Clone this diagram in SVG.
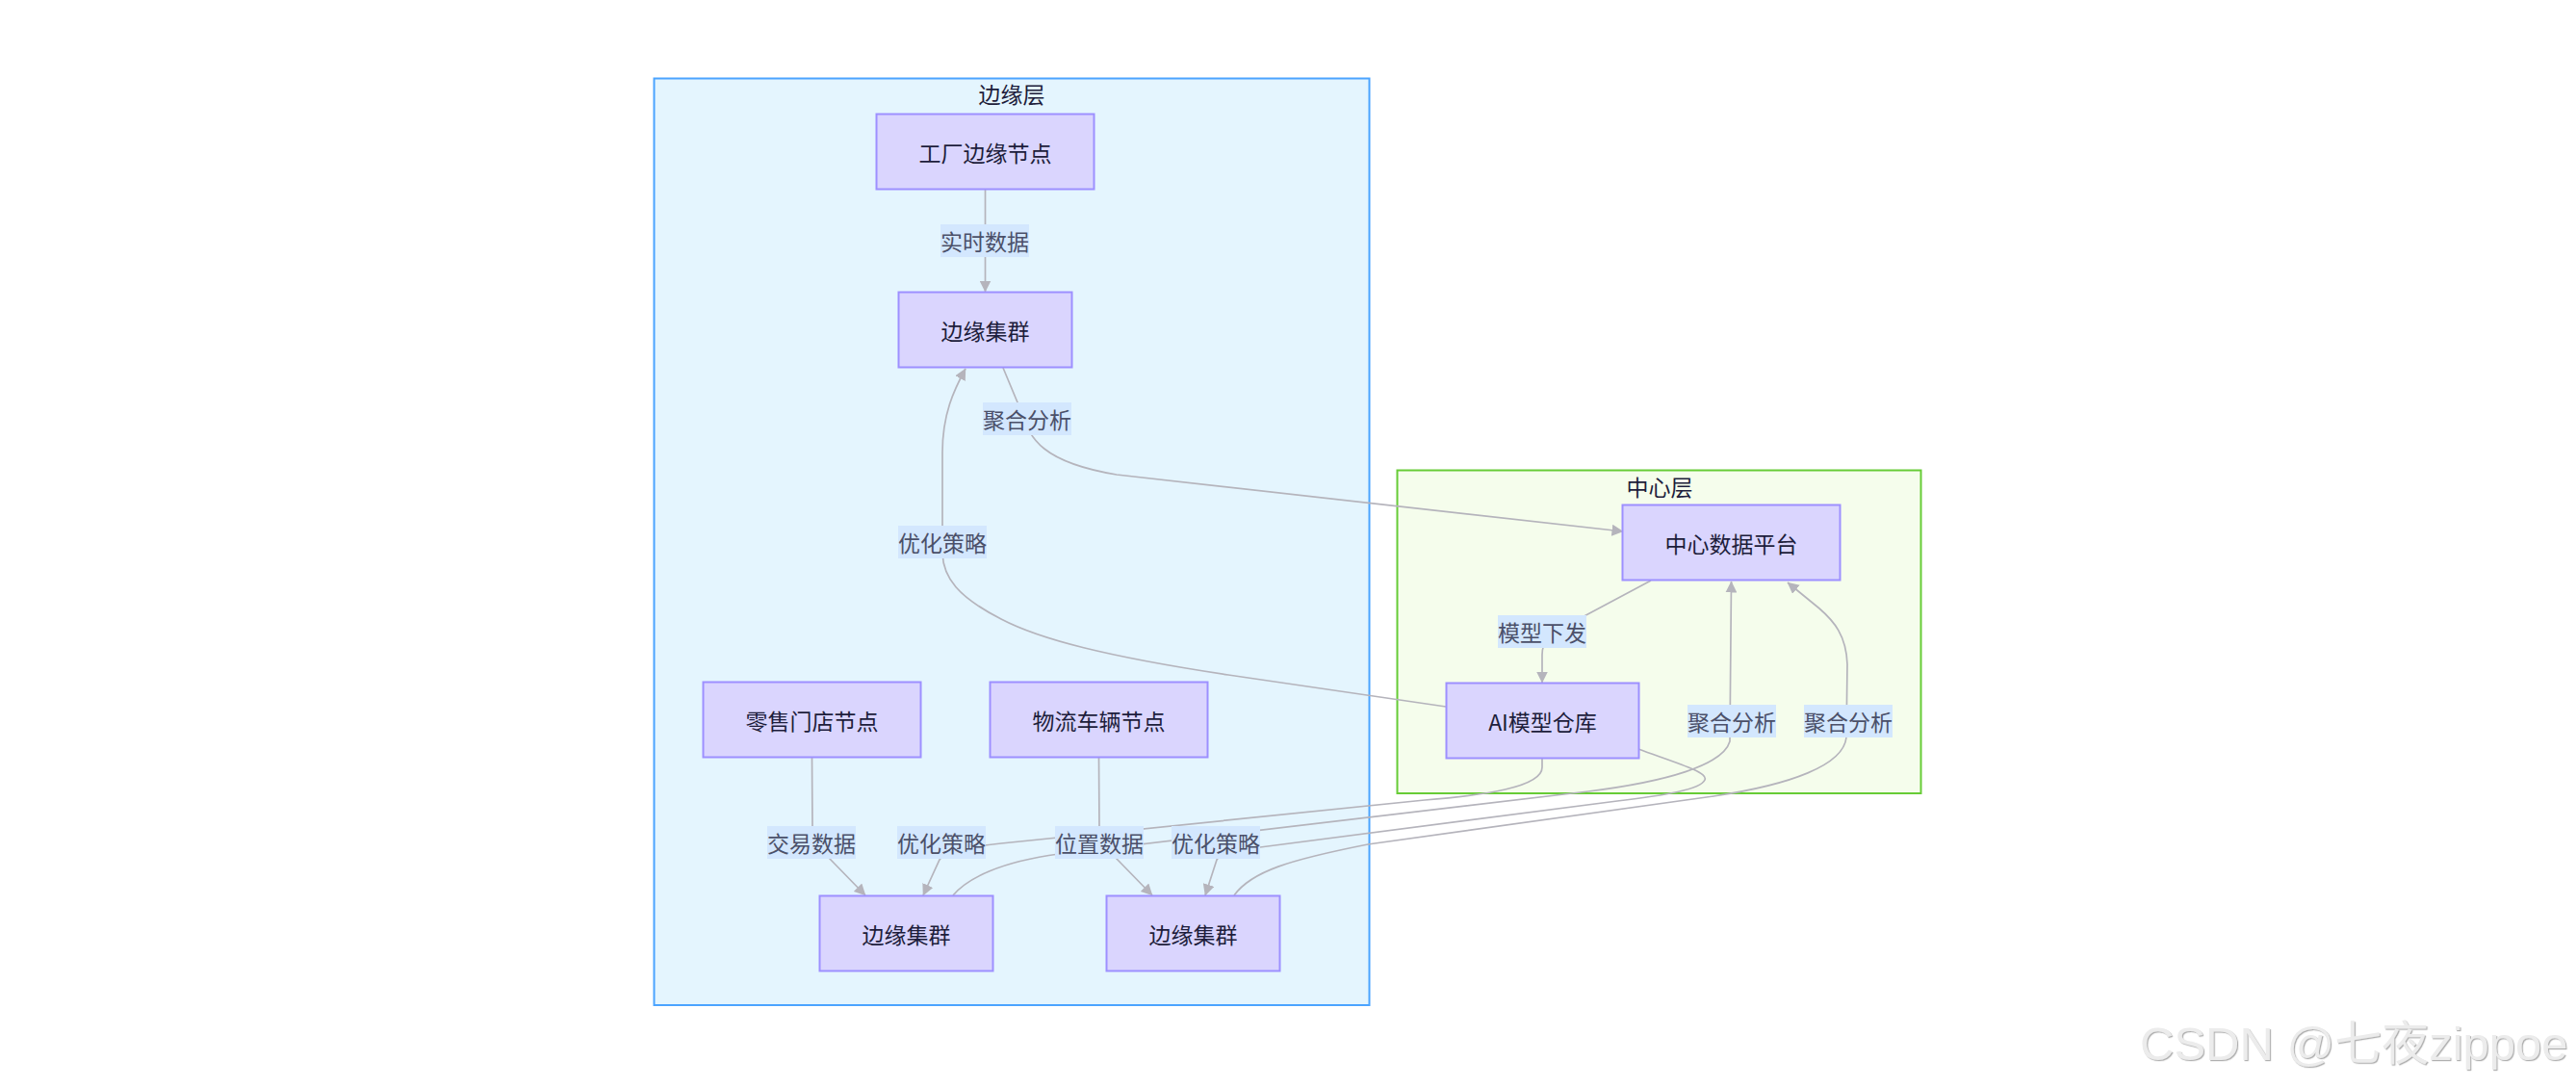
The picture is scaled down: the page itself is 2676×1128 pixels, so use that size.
<svg xmlns="http://www.w3.org/2000/svg" width="2676" height="1128" viewBox="0 0 2676 1128">
<style>
.node rect{fill:#dad5fe;stroke:#9d90ff;stroke-width:2}
.node text{font-family:"Noto Sans CJK SC","Liberation Sans",sans-serif;font-size:23px;fill:#1d1d3b;text-anchor:middle;dominant-baseline:central}
.edge{fill:none;stroke:#b5b4bc;stroke-width:1.7}
.lbl rect{fill:#d3e7fe}
.lbl text{font-family:"Noto Sans CJK SC","Liberation Sans",sans-serif;font-size:23px;fill:#4b5069;text-anchor:middle;dominant-baseline:central}
.title{font-family:"Noto Sans CJK SC","Liberation Sans",sans-serif;font-size:23px;fill:#1d1d3b;text-anchor:middle;dominant-baseline:central}
</style>
<defs>
<marker id="arr" markerUnits="userSpaceOnUse" viewBox="0 0 12 12" markerWidth="12" markerHeight="12" refX="11.5" refY="6" orient="auto">
<path d="M0,0 L12,6 L0,12 z" fill="#b5b4bc"/>
</marker>
<filter id="emb" x="-5%" y="-20%" width="110%" height="140%">
<feDropShadow dx="1.2" dy="1.2" stdDeviation="0.4" flood-color="#a8a8a8" flood-opacity="0.9"/>
</filter>
</defs>
<rect width="2676" height="1128" fill="#ffffff"/>
<g id="edge-layer">
<rect x="679.5" y="81.5" width="743" height="962.5" fill="#e4f5fe" stroke="#4ba4ff" stroke-width="2"/>
<text class="title" x="1051" y="97">边缘层</text>
</g>
<g id="center-layer">
<rect x="1451.5" y="488.5" width="544" height="335.5" fill="#f5fdec" stroke="#67cc36" stroke-width="2"/>
<text class="title" x="1724" y="505">中心层</text>
</g>
<g id="connectors">
<path class="edge" marker-end="url(#arr)" d="M1023.5,197 L1023.5,303"/>
<path class="edge" marker-end="url(#arr)" d="M1042,382 L1062,430 C1070,455 1082,480 1160,493 L1686,552"/>
<path class="edge" marker-end="url(#arr)" d="M1502,734 L1276,701 C1150,682 1080,664 1040,643 C995,620 980,600 979,575 L979,470 C979,430 991,405 1003,383"/>
<path class="edge" marker-end="url(#arr)" d="M843.5,787 L844,862 C845,880 855,885 862,892 L899,930"/>
<path class="edge" marker-end="url(#arr)" d="M1141.5,787 L1142,862 C1143,880 1152,884 1160,892 L1197,930"/>
<path class="edge" marker-end="url(#arr)" d="M1602,788 L1602,797 C1602,818 1540,826 1480,831 L1040,876 C1000,880 982,884 976,893 L959,930"/>
<path class="edge" marker-end="url(#arr)" d="M1702,778 C1740,792 1775,802 1771,810 C1767,820 1730,826 1680,832 L1309,880 C1285,883 1268,886 1264,893 L1252,930"/>
<path class="edge" marker-end="url(#arr)" d="M990,930 C1005,912 1040,895 1100,887 L1650,822 C1730,812 1790,795 1797,770 L1798.5,604"/>
<path class="edge" marker-end="url(#arr)" d="M1282,930 C1300,905 1340,893 1421,877 L1780,827 C1860,815 1915,795 1918,766 L1919,690 C1918,660 1905,645 1890,632 L1857,605"/>
<path class="edge" marker-end="url(#arr)" d="M1715,603 L1640,643 C1610,658 1602,665 1602,680 L1602,709"/>
</g>
<g id="edge-labels">
<g class="lbl"><rect x="977" y="233" width="92" height="34"/><text x="1023" y="250">实时数据</text></g>
<g class="lbl"><rect x="1021" y="418" width="92" height="34"/><text x="1067" y="435">聚合分析</text></g>
<g class="lbl"><rect x="933" y="546" width="92" height="34"/><text x="979" y="563">优化策略</text></g>
<g class="lbl"><rect x="797" y="858" width="92" height="34"/><text x="843" y="875">交易数据</text></g>
<g class="lbl"><rect x="932" y="858" width="92" height="34"/><text x="978" y="875">优化策略</text></g>
<g class="lbl"><rect x="1096" y="858" width="92" height="34"/><text x="1142" y="875">位置数据</text></g>
<g class="lbl"><rect x="1217" y="858" width="92" height="34"/><text x="1263" y="875">优化策略</text></g>
<g class="lbl"><rect x="1556" y="639" width="92" height="34"/><text x="1602" y="656">模型下发</text></g>
<g class="lbl"><rect x="1753" y="732" width="92" height="34"/><text x="1799" y="749">聚合分析</text></g>
<g class="lbl"><rect x="1874" y="732" width="92" height="34"/><text x="1920" y="749">聚合分析</text></g>
</g>
<g id="factory" class="node"><rect x="910.5" y="118.5" width="226" height="78"/><text x="1023.5" y="157.5">工厂边缘节点</text></g>
<g id="cluster1" class="node"><rect x="933.5" y="303.5" width="180" height="78"/><text x="1023.5" y="342.5">边缘集群</text></g>
<g id="retail" class="node"><rect x="730.5" y="708.5" width="226" height="78"/><text x="843.5" y="747.5">零售门店节点</text></g>
<g id="logistics" class="node"><rect x="1028.5" y="708.5" width="226" height="78"/><text x="1141.5" y="747.5">物流车辆节点</text></g>
<g id="cluster2" class="node"><rect x="851.5" y="930.5" width="180" height="78"/><text x="941.5" y="969.5">边缘集群</text></g>
<g id="cluster3" class="node"><rect x="1149.5" y="930.5" width="180" height="78"/><text x="1239.5" y="969.5">边缘集群</text></g>
<g id="platform" class="node"><rect x="1685.5" y="524.5" width="226" height="78"/><text x="1798.5" y="563.5">中心数据平台</text></g>
<g id="ai-repo" class="node"><rect x="1502.5" y="709.5" width="200" height="78"/><text x="1602.5" y="748.5">AI模型仓库</text></g>
<text x="2223" y="1101" font-family="Liberation Sans,'Noto Sans CJK SC',sans-serif" font-size="49" fill="#ececec" filter="url(#emb)">CSDN @七夜zippoe</text>
</svg>
